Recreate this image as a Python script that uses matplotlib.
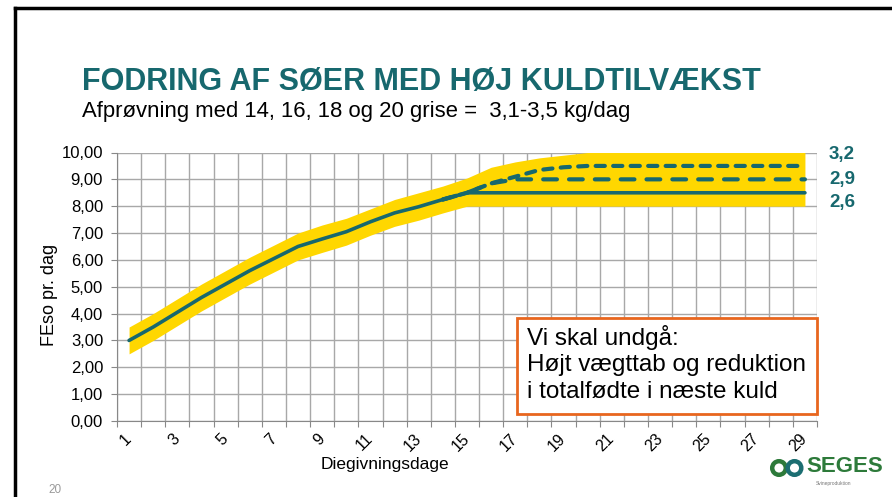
import matplotlib.pyplot as plt
from matplotlib.lines import Line2D
from matplotlib.patches import Rectangle, Circle
from matplotlib.ticker import FixedLocator, FixedFormatter

plt.rcParams['font.family'] = ['Liberation Sans', 'DejaVu Sans']

# data
days = list(range(1, 30))
feed_26 = [3.0, 3.5, 4.05, 4.6, 5.1, 5.6, 6.05, 6.5, 6.78, 7.05, 7.42, 7.75, 7.98, 8.25, 8.5,
           8.5, 8.5, 8.5, 8.5, 8.5, 8.5, 8.5, 8.5, 8.5, 8.5, 8.5, 8.5, 8.5, 8.5]
days_hi = list(range(14, 30))
feed_29 = [8.25, 8.5, 8.85, 9.0, 9.0, 9.0, 9.0, 9.0, 9.0, 9.0, 9.0, 9.0, 9.0, 9.0, 9.0, 9.0]
feed_32 = [8.25, 8.5, 8.85, 9.1, 9.35, 9.45, 9.5, 9.5, 9.5, 9.5, 9.5, 9.5, 9.5, 9.5, 9.5, 9.5]
band_low = [2.5, 3.0, 3.55, 4.1, 4.6, 5.1, 5.55, 6.0, 6.28, 6.55, 6.92, 7.25, 7.48, 7.75, 8.0,
            8.0, 8.0, 8.0, 8.0, 8.0, 8.0, 8.0, 8.0, 8.0, 8.0, 8.0, 8.0, 8.0, 8.0]
band_high = [3.5, 4.0, 4.55, 5.1, 5.6, 6.1, 6.55, 7.0, 7.3, 7.55, 7.9, 8.25, 8.5, 8.75, 9.05,
             9.45, 9.65, 9.8, 9.9, 10.0, 10.0, 10.0, 10.0, 10.0, 10.0, 10.0, 10.0, 10.0, 10.0]
yticks = [0, 1, 2, 3, 4, 5, 6, 7, 8, 9, 10]
ytick_labels = ['0,00', '1,00', '2,00', '3,00', '4,00', '5,00', '6,00', '7,00', '8,00', '9,00', '10,00']
xlabel_days = [1, 3, 5, 7, 9, 11, 13, 15, 17, 19, 21, 23, 25, 27, 29]
end_labels = ['3,2', '2,9', '2,6']

teal = '#17686E'
gold = '#FFD700'
W, H = 892, 497

fig = plt.figure(figsize=(W / 100, H / 100), dpi=100)
ax = fig.add_axes([117 / W, 76 / H, 700 / W, 268.5 / H])

ax.fill_between(days, band_low, band_high, color=gold, lw=0, zorder=2)
ax.plot(days, feed_26, color=teal, lw=2.6, solid_capstyle='round', zorder=3)
ax.plot(days_hi, feed_29, color=teal, lw=3, dashes=(3.3, 2.9), dash_capstyle='round', zorder=3)
ax.plot(days_hi, feed_32, color=teal, lw=3, dashes=(2.2, 2.0), dash_capstyle='round', zorder=3)

ax.set_xlim(0.5, 29.5)
ax.set_ylim(0, 10)
ax.xaxis.set_major_locator(FixedLocator([d - 0.5 for d in days] + [29.5]))
ax.xaxis.set_major_formatter(FixedFormatter([]))
ax.xaxis.set_minor_locator(FixedLocator(xlabel_days))
ax.xaxis.set_minor_formatter(FixedFormatter([str(d) for d in xlabel_days]))
ax.yaxis.set_major_locator(FixedLocator(yticks))
ax.yaxis.set_major_formatter(FixedFormatter(ytick_labels))
ax.grid(True, which='major', color='#A8A8A8', lw=1)
ax.set_axisbelow(True)
ax.tick_params(axis='x', which='major', length=4, color='#888888', direction='out')
ax.tick_params(axis='x', which='minor', length=0, pad=11, labelsize=11.5)
ax.tick_params(axis='y', length=4, color='#888888', pad=6, labelsize=12)
for lab in ax.get_xticklabels(minor=True):
    lab.set_rotation(45)
    lab.set_ha('right')
    lab.set_va('center')
    lab.set_rotation_mode('anchor')
for s in ['top', 'right']:
    ax.spines[s].set_visible(False)
for s in ['left', 'bottom']:
    ax.spines[s].set_color('#888888')

# titles and axis labels
fig.text(82 / W, 1 - 90 / H, 'FODRING AF SØER MED HØJ KULDTILVÆKST', fontsize=22,
         fontweight='bold', color=teal, ha='left', va='baseline')
fig.text(82 / W, 1 - 117 / H, 'Afprøvning med 14, 16, 18 og 20 grise =  3,1-3,5 kg/dag',
         fontsize=15.9, ha='left', va='baseline')
fig.text(50 / W, 1 - 295 / H, 'FEso pr. dag', rotation=90, fontsize=13, ha='center', va='center')
fig.text(385 / W, 1 - 465 / H, 'Diegivningsdage', fontsize=12.5, ha='center', va='center')

for lab, yy in zip(end_labels, [155, 180, 203]):
    fig.text(829 / W, 1 - yy / H, lab, fontsize=13.5, fontweight='bold', color=teal,
             ha='left', va='center')

# callout box
fig.add_artist(Rectangle((517 / W, 1 - 414 / H), 300 / W, 96 / H, transform=fig.transFigure,
                         facecolor='white', edgecolor='#E8661E', lw=2, zorder=5))
fig.text(527 / W, 1 - 325 / H, 'Vi skal undgå:\nHøjt vægttab og reduktion\ni totalfødte i næste kuld',
         fontsize=17.5, ha='left', va='top', linespacing=1.25, zorder=6)

# slide frame and page number
fig.add_artist(Line2D([15 / W, 1], [1 - 8 / H, 1 - 8 / H], color='black', lw=2.5))
fig.add_artist(Line2D([15 / W, 15 / W], [0, 1 - 8 / H], color='black', lw=2.5))
fig.text(55 / W, 1 - 490 / H, '20', fontsize=8.5, color='#9A9A9A', ha='center', va='center')

# SEGES logo
lax = fig.add_axes([768 / W, 1 - 480 / H, 40 / W, 24 / H])
lax.set_xlim(0, 40)
lax.set_ylim(0, 24)
lax.set_aspect('equal')
lax.axis('off')
lax.add_patch(Circle((11, 12), 6.8, fill=False, lw=3.2, edgecolor='#2D7A3A'))
lax.add_patch(Circle((26.5, 12), 6.8, fill=False, lw=3.2, edgecolor='#1C6E72'))
fig.text(845 / W, 1 - 467 / H, 'SEGES', fontsize=16, fontweight='bold', color='#2D7A3A',
         ha='center', va='center')
fig.text(816 / W, 1 - 483 / H, 'Svineproduktion', fontsize=3.5, color='#777777',
         ha='left', va='center')

fig.savefig('out.png', dpi=100)
